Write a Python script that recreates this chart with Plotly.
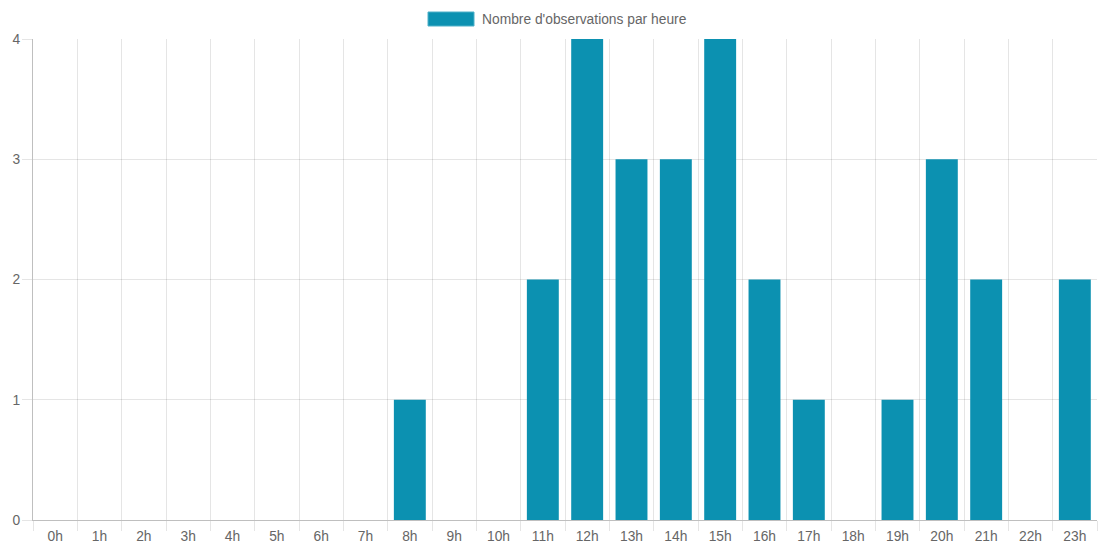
import plotly.graph_objects as go

hours = [f"{h}h" for h in range(24)]
counts = [0, 0, 0, 0, 0, 0, 0, 0, 1, 0, 0, 2, 4, 3, 3, 4, 2, 1, 0, 1, 3, 2, 0, 2]
series_name = "Nombre d'observations par heure"

bar_color = "#0c91b1"
border_color = "#4fb0c8"
grid = "rgba(0,0,0,0.1)"
axis_col = "rgba(0,0,0,0.25)"
font = dict(family="Liberation Sans, Arial, sans-serif", size=13.8, color="#666")

fig = go.Figure(go.Bar(
    x=hours, y=counts, name=series_name,
    marker=dict(color=bar_color, line=dict(width=0)),
    showlegend=False,
))

fig.update_layout(
    width=1102, height=547,
    margin=dict(l=33, r=5, t=39, b=27),
    plot_bgcolor="white", paper_bgcolor="white",
    font=font,
    bargap=0.28,
    xaxis=dict(
        type="category", tickson="boundaries", automargin=False,
        showgrid=True, gridcolor=grid, gridwidth=1,
        ticks="outside", ticklen=10, tickcolor=grid,
        showline=True, linecolor=axis_col, linewidth=1,
        tickfont=font, zeroline=False, ticklabelstandoff=3,
    ),
    yaxis=dict(
        range=[0, 4], dtick=1, tick0=0, automargin=False,
        showgrid=True, gridcolor=grid, gridwidth=1,
        ticks="outside", ticklen=10, tickcolor=grid,
        showline=True, linecolor=axis_col, linewidth=1,
        zeroline=False, tickfont=font, ticklabelstandoff=-1,
    ),
    shapes=[dict(
        type="rect", xref="paper", yref="paper",
        x0=(428 - 33) / 1064, x1=(474 - 33) / 1064,
        y0=1 + (39 - 26) / 481, y1=1 + (39 - 12) / 481,
        fillcolor=bar_color, line=dict(color=border_color, width=1),
    )],
    annotations=[dict(
        text=series_name, xref="paper", yref="paper",
        x=(480 - 33) / 1064, y=1 + (39 - 19) / 481,
        xanchor="left", yanchor="middle", showarrow=False,
        font=font,
    )],
)

fig.write_html("out.html")
